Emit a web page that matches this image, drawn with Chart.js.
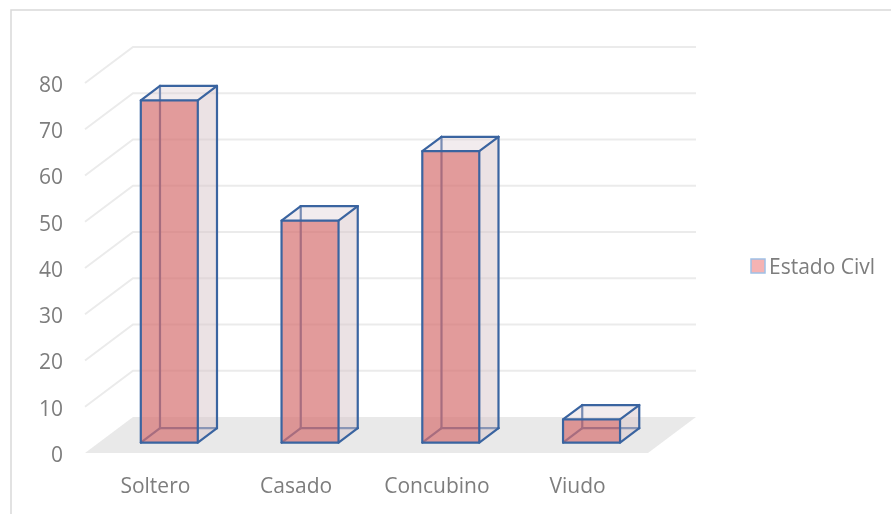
<!DOCTYPE html>
<html>
<head>
<meta charset="utf-8">
<script src="https://cdn.jsdelivr.net/npm/chart.js@4"></script>
<style>
  html, body { margin: 0; padding: 0; background: #ffffff; }
  canvas { display: block; }
</style>
</head>
<body>
<canvas id="chart" width="891" height="514"></canvas>
<script>
// ---- data ----
const categories = ['Soltero', 'Casado', 'Concubino', 'Viudo'];
const seriesName = 'Estado Civl';
const seriesValues = [74, 48, 63, 5];
const yTickValues = [0, 10, 20, 30, 40, 50, 60, 70, 80];

// ---- 3D look ----
const DEPTH = { dx: 48, dy: -36 };        // offset from the front edge of the floor to the back wall
const BOX_FRONT = 0.29, BOX_BACK = 0.69;  // slab of the depth occupied by the boxes
const EDGE = '#3a64a0';
const FRONT_FILL = 'rgba(214,112,112,0.70)';
const SIDE_FILL = 'rgba(215,198,202,0.50)';
const TOP_FILL = 'rgba(222,206,210,0.38)';
const TEXT = '#7d7d7d';
const FONT = "'Open Sans', sans-serif";

function poly(ctx, pts) {
  ctx.beginPath();
  ctx.moveTo(pts[0][0], pts[0][1]);
  for (let i = 1; i < pts.length; i++) ctx.lineTo(pts[i][0], pts[i][1]);
  ctx.closePath();
}
function seg(ctx, x1, y1, x2, y2) {
  ctx.beginPath();
  ctx.moveTo(x1, y1);
  ctx.lineTo(x2, y2);
  ctx.stroke();
}

// Draws the floor, the walls' gridlines and the bars as 3D boxes.
const boxes3d = {
  id: 'boxes3d',
  beforeDraw(chart) {
    const ctx = chart.ctx;
    ctx.save();
    ctx.strokeStyle = '#d9d9d9';
    ctx.lineWidth = 1.5;
    ctx.beginPath();
    ctx.moveTo(11, chart.height);
    ctx.lineTo(11, 10);
    ctx.lineTo(chart.width, 10);
    ctx.stroke();
    ctx.restore();
  },
  beforeDatasetDraw() {
    return false; // boxes are painted below instead of flat bars
  },
  afterDatasetsDraw(chart) {
    const { ctx, chartArea: a, scales: { x, y } } = chart;
    const { dx, dy } = DEPTH;
    ctx.save();

    // floor
    const y0 = y.getPixelForValue(0);
    ctx.fillStyle = '#e9e9e9';
    poly(ctx, [[a.left, y0], [a.right, y0], [a.right + dx, y0 + dy], [a.left + dx, y0 + dy]]);
    ctx.fill();

    // gridlines: diagonal on the side, horizontal on the back wall
    ctx.strokeStyle = '#ebebeb';
    ctx.lineWidth = 2;
    y.ticks.forEach(t => {
      if (t.value === 0) return;
      const py = y.getPixelForValue(t.value);
      ctx.beginPath();
      ctx.moveTo(a.left, py);
      ctx.lineTo(a.left + dx, py + dy);
      ctx.lineTo(a.right + dx, py + dy);
      ctx.stroke();
    });

    // boxes
    const meta = chart.getDatasetMeta(0);
    ctx.lineJoin = 'round';
    ctx.lineCap = 'round';
    meta.data.forEach(bar => {
      const p = bar.getProps(['x', 'y', 'base', 'width'], true);
      const l = p.x - p.width / 2, r = p.x + p.width / 2;
      const F = { l: l + dx * BOX_FRONT, r: r + dx * BOX_FRONT, t: p.y + dy * BOX_FRONT, b: p.base + dy * BOX_FRONT };
      const B = { l: l + dx * BOX_BACK, r: r + dx * BOX_BACK, t: p.y + dy * BOX_BACK, b: p.base + dy * BOX_BACK };

      ctx.strokeStyle = EDGE;
      ctx.lineWidth = 2.2;
      // hidden edges, seen through the translucent faces
      seg(ctx, F.l, F.b, B.l, B.b);
      seg(ctx, B.l, B.b, B.r, B.b);
      seg(ctx, B.l, B.b, B.l, B.t);

      // right side and top
      ctx.fillStyle = SIDE_FILL;
      poly(ctx, [[F.r, F.t], [B.r, B.t], [B.r, B.b], [F.r, F.b]]);
      ctx.fill();
      ctx.fillStyle = TOP_FILL;
      poly(ctx, [[F.l, F.t], [B.l, B.t], [B.r, B.t], [F.r, F.t]]);
      ctx.fill();

      // front face
      ctx.fillStyle = FRONT_FILL;
      ctx.fillRect(F.l, F.t, F.r - F.l, F.b - F.t);

      // visible edges
      ctx.strokeStyle = EDGE;
      ctx.strokeRect(F.l, F.t, F.r - F.l, F.b - F.t);
      seg(ctx, F.l, F.t, B.l, B.t);
      seg(ctx, B.l, B.t, B.r, B.t);
      seg(ctx, F.r, F.t, B.r, B.t);
      seg(ctx, B.r, B.t, B.r, B.b);
      seg(ctx, F.r, F.b, B.r, B.b);
    });
    ctx.restore();
  },
  afterDraw(chart) {
    // legend entry
    const ctx = chart.ctx;
    ctx.save();
    ctx.fillStyle = '#f5b3b3';
    ctx.fillRect(751, 259, 14, 14);
    ctx.strokeStyle = '#9fc0e6';
    ctx.lineWidth = 1.5;
    ctx.strokeRect(751, 259, 14, 14);
    ctx.fillStyle = TEXT;
    ctx.font = `21px ${FONT}`;
    ctx.textBaseline = 'middle';
    ctx.textAlign = 'left';
    ctx.fillText(chart.data.datasets[0].label, 769, 268);
    ctx.restore();
  }
};

new Chart(document.getElementById('chart'), {
  type: 'bar',
  data: {
    labels: categories,
    datasets: [{
      label: seriesName,
      data: seriesValues,
      backgroundColor: FRONT_FILL,
      borderColor: EDGE,
      borderWidth: 2,
      categoryPercentage: 1,
      barPercentage: 0.405
    }]
  },
  options: {
    responsive: false,
    animation: false,
    events: [],
    layout: { padding: { left: 0, right: 243, top: 83, bottom: 0 } },
    plugins: { legend: { display: false }, tooltip: { enabled: false } },
    scales: {
      x: {
        grid: { display: false, drawTicks: false },
        border: { display: false },
        ticks: { color: TEXT, font: { family: FONT, size: 21 }, padding: 21, maxRotation: 0 },
        afterFit(scale) { scale.height = 61; }
      },
      y: {
        min: 0,
        max: 80,
        grid: { display: false, drawTicks: false },
        border: { display: false },
        afterBuildTicks(scale) { scale.ticks = yTickValues.map(v => ({ value: v })); },
        ticks: { color: TEXT, font: { family: FONT, size: 21 }, padding: 22, labelOffset: 3 },
        afterFit(scale) { scale.width = 85; }
      }
    }
  },
  plugins: [boxes3d]
});
</script>
</body>
</html>
